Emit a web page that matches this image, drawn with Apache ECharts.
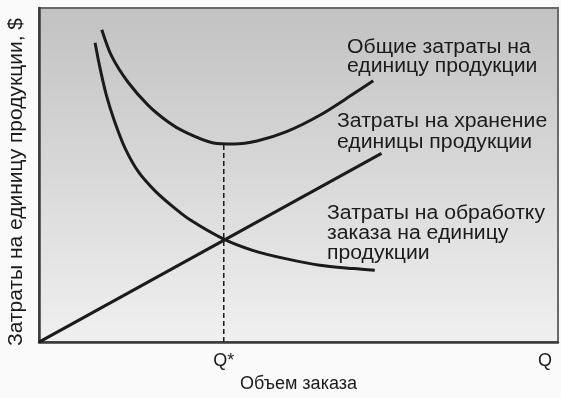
<!DOCTYPE html>
<html>
<head>
<meta charset="utf-8">
<script src="https://cdn.jsdelivr.net/npm/echarts@6/dist/echarts.min.js"></script>
<style>
  html, body { margin: 0; padding: 0; background: #fafafa; }
  #main { width: 561px; height: 398px; }
</style>
</head>
<body>
<div id="main"></div>
<script>
// значения (шкала 0..100 по обеим осям)
var totalCost = [
  [12.1, 93.5], [14.0, 85.6], [17.2, 77.7], [21.1, 70.8], [24.9, 65.9],
  [28.1, 62.9], [33.6, 59.6], [37.6, 59.3], [42.0, 60.2], [47.7, 63.0],
  [54.1, 67.9], [60.6, 74.3], [64.4, 78.2]
];
var orderCost = [
  [10.8, 89.6], [11.8, 81.7], [13.0, 73.8], [14.6, 65.9], [16.6, 58.0],
  [19.1, 51.1], [22.4, 45.2], [25.9, 40.4], [29.1, 36.6], [35.5, 30.9],
  [41.3, 27.4], [47.7, 24.9], [54.1, 23.0], [60.6, 22.0], [64.7, 21.5]
];
var holdCost = [[0, 0], [66.0, 56.5]];
var qStar = 35.6;
var qStarLine = [[qStar, 0], [qStar, 59.3]];
var xTicks = [qStar, 97.5];
var xTickNames = ["Q*", "Q"];

var font = "'Liberation Sans', Arial, sans-serif";
var ink = "#1b1b1b";

var myChart = echarts.init(document.getElementById("main"), null, { renderer: "canvas" });

var option = {
  backgroundColor: "#fafafa",
  animation: false,
  grid: {
    left: 39, top: 8, right: 3, bottom: 52,
    show: true,
    borderColor: "#6a6a6a",
    borderWidth: 2,
    backgroundColor: new echarts.graphic.LinearGradient(0, 0, 0, 1, [
      { offset: 0, color: "#c2c2c2" },
      { offset: 0.45, color: "#d6d6d6" },
      { offset: 1, color: "#f0f0f0" }
    ])
  },
  xAxis: {
    type: "value",
    min: 0, max: 100,
    name: "Объем заказа",
    nameLocation: "middle",
    nameGap: 29,
    nameTextStyle: { fontFamily: font, fontSize: 18, color: ink },
    axisLine: { show: true, lineStyle: { color: "#3a3a3a", width: 2.5 } },
    axisTick: { show: false },
    splitLine: { show: false },
    axisLabel: {
      customValues: xTicks,
      formatter: function (v) {
        var i = xTicks.indexOf(v);
        return i >= 0 ? xTickNames[i] : "";
      },
      fontFamily: font, fontSize: 18, color: ink, margin: 10
    }
  },
  yAxis: {
    type: "value",
    min: 0, max: 100,
    axisLine: { show: true, lineStyle: { color: "#3a3a3a", width: 2.5 } },
    axisTick: { show: false },
    axisLabel: { show: false },
    splitLine: { show: false }
  },
  series: [
    {
      name: "Общие затраты",
      type: "line",
      data: totalCost,
      smooth: 0.3,
      showSymbol: false,
      lineStyle: { color: ink, width: 3 }
    },
    {
      name: "Обработка заказа",
      type: "line",
      data: orderCost,
      smooth: 0.3,
      showSymbol: false,
      lineStyle: { color: ink, width: 3 }
    },
    {
      name: "Хранение",
      type: "line",
      data: holdCost,
      showSymbol: false,
      lineStyle: { color: ink, width: 3 }
    },
    {
      name: "Q*",
      type: "line",
      data: qStarLine,
      showSymbol: false,
      lineStyle: { color: ink, width: 1.5, type: [5, 3] }
    }
  ],
  graphic: [
    {
      // подпись оси Y
      type: "text", x: 16, y: 182, rotation: Math.PI / 2,
      style: {
        text: "Затраты на единицу продукции, $", font: "21px " + font, fill: ink,
        align: "center", verticalAlign: "middle"
      }
    },
    {
      type: "text", left: 347, top: 37, scaleX: 1.06,
      style: { text: "Общие затраты на\nединицу продукции", font: "20px " + font, fill: ink, lineHeight: 19 }
    },
    {
      type: "text", left: 337, top: 111, scaleX: 1.06,
      style: { text: "Затраты на хранение\nединицы продукции", font: "20px " + font, fill: ink, lineHeight: 21 }
    },
    {
      type: "text", left: 327, top: 203, scaleX: 1.06,
      style: { text: "Затраты на обработку\nзаказа на единицу\nпродукции", font: "20px " + font, fill: ink, lineHeight: 20 }
    }
  ]
};

myChart.setOption(option);
</script>
</body>
</html>
